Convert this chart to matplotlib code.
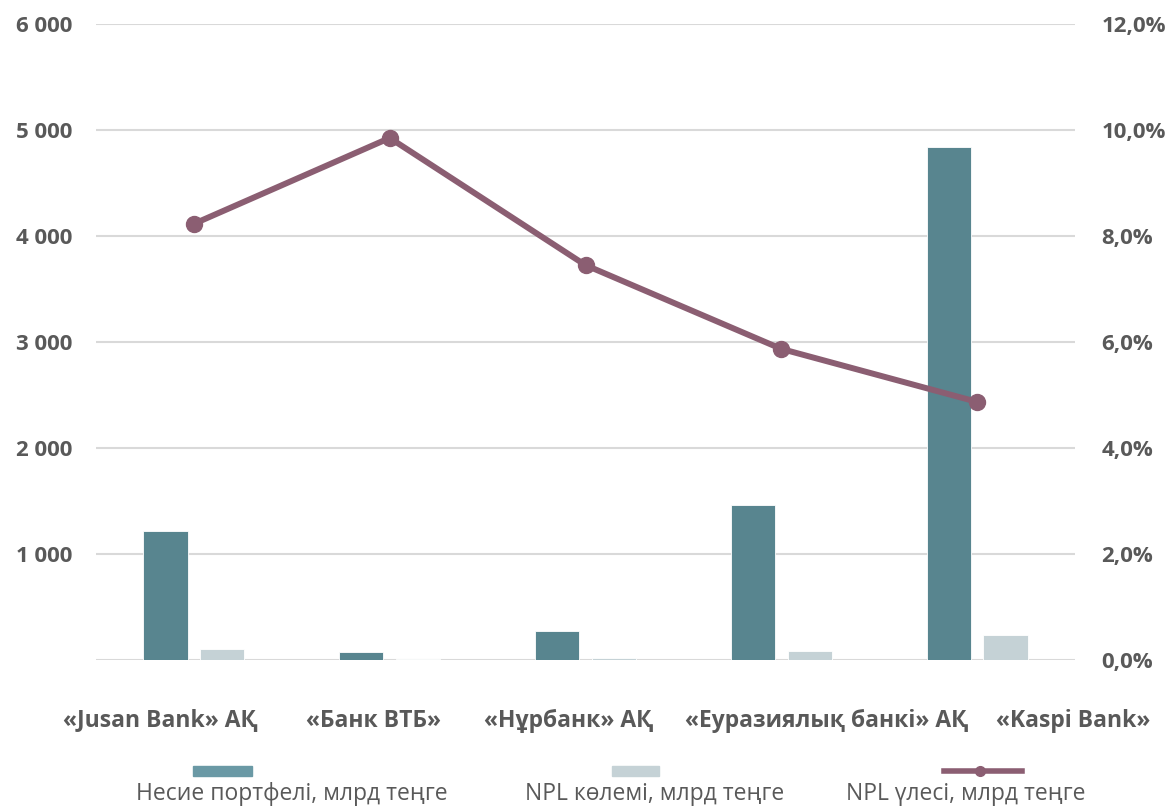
import matplotlib.pyplot as plt
import matplotlib.patches as mpatches
import matplotlib.transforms as mtransforms
from matplotlib.lines import Line2D
from matplotlib.ticker import FuncFormatter
import numpy as np

plt.rcParams['font.family'] = ['Open Sans', 'DejaVu Sans']

banks = ['«Jusan Bank» АҚ', '«Банк ВТБ»', '«Нұрбанк» АҚ',
         '«Еуразиялық банкі» АҚ', '«Kaspi Bank»']
portfolio = [1215, 75, 275, 1465, 4835]
npl_volume = [100, 5, 20, 85, 235]
npl_share = [8.23, 9.85, 7.45, 5.87, 4.87]

legend_labels = ['Несие портфелі, млрд теңге', 'NPL көлемі, млрд теңге',
                 'NPL үлесі, млрд теңге']

c_dark = '#58858F'
c_light = '#C5D2D6'
c_line = '#8B5E72'
c_text = '#595959'
c_grid = '#D9D9D9'

fig = plt.figure(figsize=(11.7, 8.06), dpi=100)
ax = fig.add_axes([96 / 1170, 1 - 660 / 806, (1075 - 96) / 1170, (660 - 24) / 806])
ax2 = ax.twinx()

x = np.arange(len(banks))
w = 0.225
off = 0.145
ax.bar(x - off, portfolio, w, color=c_dark, edgecolor='white', linewidth=0.6, zorder=3)
ax.bar(x + off, npl_volume, w, color=c_light, edgecolor='white', linewidth=0.6, zorder=3)

ax2.plot(x, npl_share, color=c_line, lw=4.3, marker='o', ms=11.5, zorder=4,
         solid_capstyle='round')

ax.set_xlim(-0.5, 4.5)
ax.set_ylim(0, 6000)
ax2.set_ylim(0, 12)
ax.set_yticks(np.arange(0, 6001, 1000))
ax2.set_yticks(np.arange(0, 12.1, 2))
ax.yaxis.set_major_formatter(FuncFormatter(
    lambda v, p: '' if v == 0 else f'{int(v):,}'.replace(',', ' ')))
ax2.yaxis.set_major_formatter(FuncFormatter(lambda v, p: f'{v:.1f}%'.replace('.', ',')))

ax.grid(axis='y', color=c_grid, lw=1.5, zorder=0)
ax.set_axisbelow(True)
for a in (ax, ax2):
    for s in a.spines.values():
        s.set_visible(False)
    a.tick_params(length=0, labelsize=16, labelcolor=c_text)
    for lbl in a.get_yticklabels():
        lbl.set_fontweight('bold')

ax.set_xticks(x)
ax.set_xticklabels(banks, fontweight='bold', fontsize=16.5, color=c_text)
ax.tick_params(axis='x', pad=35)
ax.tick_params(axis='y', pad=17)
ax2.tick_params(axis='y', pad=19)
# labels are nudged sideways so the long names don't collide
shifts = [-34, -16, -17, 45, 96]
for lbl, dx in zip(ax.get_xticklabels(), shifts):
    lbl.set_transform(lbl.get_transform() +
                      mtransforms.ScaledTranslation(dx / 100, 0, fig.dpi_scale_trans))

ax.set_zorder(ax2.get_zorder() - 1)
ax2.patch.set_visible(False)
ax.patch.set_visible(True)

# legend: handles above labels
hy = 1 - 771 / 806
ty = 1 - 794 / 806
fig.patches.append(mpatches.Rectangle((193 / 1170, hy - 5 / 806), 59 / 1170, 10 / 806,
                                      transform=fig.transFigure, color='#6A99A5'))
fig.patches.append(mpatches.Rectangle((612 / 1170, hy - 5 / 806), 47 / 1170, 10 / 806,
                                      transform=fig.transFigure, color=c_light))
fig.lines.append(Line2D([944 / 1170, 1022 / 1170], [hy, hy],
                        transform=fig.transFigure, color=c_line, lw=4))
fig.lines.append(Line2D([980 / 1170], [hy], transform=fig.transFigure, color=c_line,
                        marker='o', ms=7))
for tx, lab in zip([136, 525, 846], legend_labels):
    fig.text(tx / 1170, ty, lab, ha='left', va='center', fontsize=16.5, color=c_text)

fig.savefig('out.png', dpi=100)
